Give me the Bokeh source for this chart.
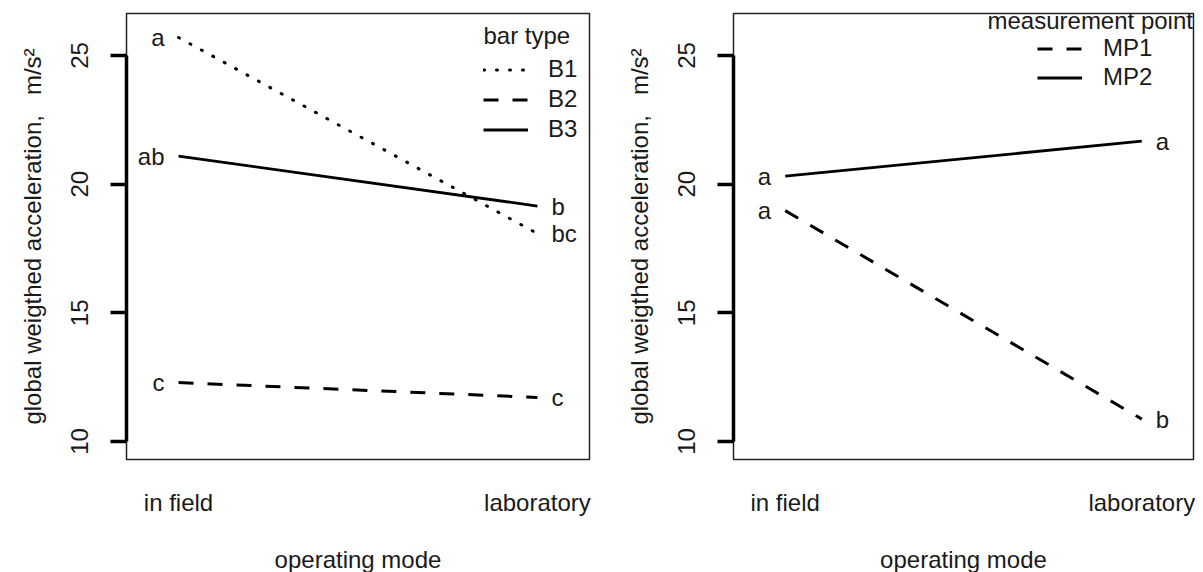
from bokeh.plotting import figure
from bokeh.models import Range1d, FixedTicker, Legend, LegendItem, Label
from bokeh.layouts import row
from bokeh.core.properties import value
from bokeh.embed import file_html
from bokeh.resources import INLINE

# ---- data ----
modes = ["in field", "laboratory"]
mode_x = [1, 2]

bar_types = ["B1", "B2", "B3"]
b1 = [25.70, 18.08]
b2 = [12.29, 11.71]
b3 = [21.09, 19.15]
b1_letters = ["a", "bc"]
b2_letters = ["c", "c"]
b3_letters = ["ab", "b"]

points = ["MP1", "MP2"]
mp1 = [18.97, 10.87]
mp2 = [20.31, 21.67]
mp1_letters = ["a", "b"]
mp2_letters = ["a", "a"]

y_ticks = [10, 15, 20, 25]
y_label = "global weigthed acceleration,\u00a0\u00a0\u00a0m/s\u00b2"
x_label = "operating mode"

FONT = "Liberation Sans"
FS = "24px"
TXT = "#1a1a1a"

STYLES = {
    "dotted": dict(line_dash="1 12", line_cap="round", line_width=3),
    "dashed": dict(line_dash="15 14", line_width=3),
    "solid": dict(line_dash="solid", line_width=2.8),
}


def make_panel(fw, bl, br, series, legend_cfg):
    p = figure(frame_width=fw, frame_height=446,
               min_border_left=bl, min_border_right=br,
               min_border_top=13, min_border_bottom=112,
               x_range=Range1d(0.855, 2.145), y_range=Range1d(9.30, 26.632),
               output_backend="svg", toolbar_location=None)
    p.background_fill_color = "white"
    p.border_fill_color = "white"
    p.outline_line_color = "#222222"
    p.outline_line_width = 1.5
    p.xgrid.visible = False
    p.ygrid.visible = False

    # y axis
    ya = p.yaxis[0]
    ya.ticker = FixedTicker(ticks=y_ticks)
    ya.bounds = (10, 25)
    ya.axis_line_width = 3.5
    ya.axis_line_color = "black"
    ya.major_tick_line_width = 3.5
    ya.major_tick_out = 16
    ya.major_tick_in = 0
    ya.minor_tick_line_color = None
    ya.major_label_orientation = "vertical"
    ya.major_label_standoff = 22
    ya.major_label_text_font = FONT
    ya.major_label_text_font_size = FS
    ya.major_label_text_color = TXT
    ya.axis_label = y_label
    ya.axis_label_text_font = FONT
    ya.axis_label_text_font_size = FS
    ya.axis_label_text_font_style = "normal"
    ya.axis_label_text_color = TXT
    ya.axis_label_standoff = 23

    # x axis
    xa = p.xaxis[0]
    xa.ticker = FixedTicker(ticks=mode_x)
    xa.major_label_overrides = {1: modes[0], 2: modes[1]}
    xa.axis_line_color = None
    xa.major_tick_line_color = None
    xa.minor_tick_line_color = None
    xa.major_tick_out = 0
    xa.major_tick_in = 0
    xa.major_label_standoff = 29
    xa.major_label_text_font = FONT
    xa.major_label_text_font_size = FS
    xa.major_label_text_color = TXT
    xa.axis_label = x_label
    xa.axis_label_text_font = FONT
    xa.axis_label_text_font_size = FS
    xa.axis_label_text_font_style = "normal"
    xa.axis_label_text_color = TXT
    xa.axis_label_standoff = 27

    items = []
    for name, vals, letters, style in series:
        r = p.line(mode_x, vals, line_color="black", **STYLES[style])
        items.append(LegendItem(label=name, renderers=[r]))
        p.text(x=[mode_x[0]], y=[vals[0]], text=[letters[0]], x_offset=-14,
               text_align="right", text_baseline="middle",
               text_font=value(FONT), text_font_size=FS, text_color=TXT)
        p.text(x=[mode_x[1]], y=[vals[1]], text=[letters[1]], x_offset=14,
               text_align="left", text_baseline="middle",
               text_font=value(FONT), text_font_size=FS, text_color=TXT)

    leg = Legend(items=items, location=legend_cfg["loc"], orientation="vertical",
                 padding=0, margin=0, spacing=legend_cfg["spacing"],
                 glyph_width=legend_cfg["gw"], glyph_height=27, label_height=27,
                 label_standoff=legend_cfg["ls"],
                 label_text_font=FONT, label_text_font_size=FS,
                 label_text_color=TXT,
                 border_line_alpha=0, background_fill_alpha=0)
    p.add_layout(leg, "center")
    p.add_layout(Label(x=legend_cfg["title_xy"][0], y=legend_cfg["title_xy"][1],
                       x_units="screen", y_units="screen",
                       text=legend_cfg["title"], text_align="left",
                       text_baseline="middle", text_font=FONT,
                       text_font_size=FS, text_color=TXT))
    return p


left_series = [
    (bar_types[0], b1, b1_letters, "dotted"),
    (bar_types[1], b2, b2_letters, "dashed"),
    (bar_types[2], b3, b3_letters, "solid"),
]
right_series = [
    (points[0], mp1, mp1_letters, "dashed"),
    (points[1], mp2, mp2_letters, "solid"),
]

p1 = make_panel(463, 126, 11, left_series,
                dict(loc=(357, 316), spacing=2, gw=45, ls=20,
                     title="bar type", title_xy=(357, 424)))
p2 = make_panel(460, 133, 2, right_series,
                dict(loc=(304, 368), spacing=1, gw=45, ls=21,
                     title="measurement point", title_xy=(254, 439)))

layout = row(p1, p2)
open("out.html", "w").write(file_html(layout, INLINE))
